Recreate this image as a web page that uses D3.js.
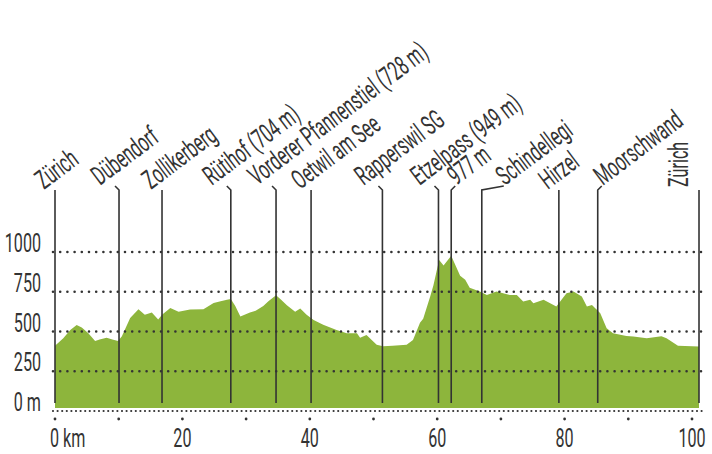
<!DOCTYPE html>
<html>
<head>
<meta charset="utf-8">
<script src="https://cdn.jsdelivr.net/npm/d3@7"></script>
<style>
    body { margin: 0; background: #fff; }
    text { font-family: Roboto, "DejaVu Sans Condensed", sans-serif; fill: #333; }
</style>
</head>
<body>
<div id="chart"></div>
<script>
// elevation profile: distance along the route (km) and height (m)
const routeKm = [0, 1.3, 2.4, 3.4, 4.2, 5.2, 6.3, 7, 8.1, 9, 9.9, 10.5, 11.8, 13.1, 14.1, 15.2, 16.2, 16.8, 18.1,
    19.4, 21.2, 23.3, 24.9, 26, 27, 27.6, 28.3, 29.1, 30.6, 31.5, 32.7, 33.5, 34.7, 35.5, 36.4, 37.7, 38.5,
    39.5, 40.6, 42.1, 44.2, 45.8, 47.4, 47.9, 48.9, 50.5, 51.5, 53, 55.2, 56.2, 57.3, 57.8, 58.9, 59.4, 60.3,
    61, 62.2, 62.6, 63.6, 64.4, 65.1, 66.7, 67.8, 69.3, 71.4, 72.5, 73.5, 74.6, 75.1, 76.7, 78.7, 80.3, 81.4,
    82.7, 83.5, 84.3, 85.6, 86.6, 87.6, 89.7, 90.8, 92.9, 95.2, 96, 97.8, 101.1];
const elevation = [410, 458, 510, 541, 525, 490, 440, 450, 460, 450, 440, 470, 585, 640, 605, 620, 575, 605, 648,
    625, 638, 640, 680, 690, 700, 704, 660, 595, 620, 630, 660, 690, 728, 700, 665, 625, 645,
    605, 573, 542, 510, 489, 489, 460, 478, 416, 408, 410, 416, 447, 555, 580, 720, 790, 949,
    915, 977, 940, 850, 825, 775, 752, 730, 752, 730, 730, 688, 700, 678, 700, 657, 741, 752,
    720, 657, 667, 615, 521, 489, 472, 468, 458, 470, 458, 410, 405];

// waypoints
const stopNames = ["Zürich", "Dübendorf", "Zollikerberg", "Rütihof (704 m)", "Vorderer Pfannenstiel (728 m)",
    "Oetwil am See", "Rapperswil SG", "Etzelpass (949 m)", "977 m", "Schindellegi", "Hirzel", "Moorschwand", "Zürich"];
const stopKm = [0, 10.05, 16.8, 27.6, 34.7, 40.2, 51.4, 60.2, 62.2, 67.0, 79.1, 85.2, 101.1];

const yTicks = [0, 250, 500, 750, 1000];
const yTickLabels = ["0 m", "250", "500", "750", "1000"];
const xTicks = [0, 20, 40, 60, 80, 100];
const xTickLabels = ["0 km", "20", "40", "60", "80", "100"];
const xMinorTicks = d3.range(0, 101, 10);

// leader elbow at the top of each line (px) - layout only
const elbows = [[0, 0], [-4, -4], [0, 0], [-4, -4], [-4, -4], [0, 0], [-4, -4], [-4, -4], [4, -4], [22, -4], [0, 0], [4, -4], [0, 0]];

const width = 712, height = 454;
const green = "#8db53c", ink = "#333";

const svg = d3.select("#chart").append("svg")
    .attr("width", width)
    .attr("height", height);

const x = d3.scaleLinear().domain([0, 100]).range([55, 692]);
const y = d3.scaleLinear().domain([0, 1000]).range([411, 252]);

const profile = routeKm.map((k, i) => ({km: k, ele: elevation[i]}));

// green area
svg.append("path")
    .datum(profile)
    .attr("fill", green)
    .attr("d", d3.area()
        .x(d => x(d.km))
        .y0(y(0) - 3)
        .y1(d => y(d.ele)));

// dotted grid lines
svg.append("g")
    .selectAll("line")
    .data(yTicks.filter(d => d > 0))
    .join("line")
    .attr("x1", 53).attr("x2", 706)
    .attr("y1", d => y(d)).attr("y2", d => y(d))
    .attr("stroke", ink)
    .attr("stroke-width", 2.6)
    .attr("stroke-linecap", "round")
    .attr("stroke-dasharray", "0 7.2");

// baseline, denser dots
svg.append("line")
    .attr("x1", 53).attr("x2", 706)
    .attr("y1", y(0)).attr("y2", y(0))
    .attr("stroke", ink)
    .attr("stroke-width", 2.2)
    .attr("stroke-linecap", "round")
    .attr("stroke-dasharray", "0 4.6");

// small tick dots under the baseline
svg.append("g")
    .selectAll("circle")
    .data(xMinorTicks)
    .join("circle")
    .attr("cx", d => x(d))
    .attr("cy", y(0) + 8)
    .attr("r", 1.4)
    .attr("fill", ink);

// y labels
svg.append("g")
    .selectAll("text")
    .data(yTicks)
    .join("text")
    .attr("transform", d => `translate(41,${y(d)}) scale(0.62,1)`)
    .attr("text-anchor", "end")
    .style("font-size", "26px")
    .text((d, i) => yTickLabels[i]);

// x labels
svg.append("g")
    .selectAll("text")
    .data(xTicks)
    .join("text")
    .attr("transform", d => `translate(${d === 0 ? x(d) - 5 : x(d)},447) scale(0.62,1)`)
    .attr("text-anchor", d => d === 0 ? "start" : "middle")
    .style("font-size", "26px")
    .text((d, i) => xTickLabels[i]);

// leader lines
const lineTop = 190, lineBottom = 403;
const leaders = svg.append("g")
    .attr("fill", "none")
    .attr("stroke", ink)
    .attr("stroke-width", 1.6);

stopKm.forEach((k, i) => {
    const lx = x(k);
    const [ex, ey] = elbows[i];
    leaders.append("path")
        .attr("d", `M${lx},${lineBottom}V${lineTop}l${ex},${ey}`);
});

// waypoint labels
svg.append("g")
    .selectAll("text")
    .data(stopNames)
    .join("text")
    .attr("transform", (d, i) => {
        const lx = x(stopKm[i]);
        const [ex, ey] = elbows[i];
        if (i === stopNames.length - 1) {
            return `translate(${lx - 11},${lineTop - 3}) rotate(-90) scale(0.6,1)`;
        }
        const tx = lx + ex + (ex > 0 ? 1 : ex < 0 ? -15 : -11);
        const ty = lineTop + ey;
        return `translate(${tx},${ty}) rotate(-37) scale(0.6,1)`;
    })
    .style("font-size", "27px")
    .text(d => d);
</script>
</body>
</html>
